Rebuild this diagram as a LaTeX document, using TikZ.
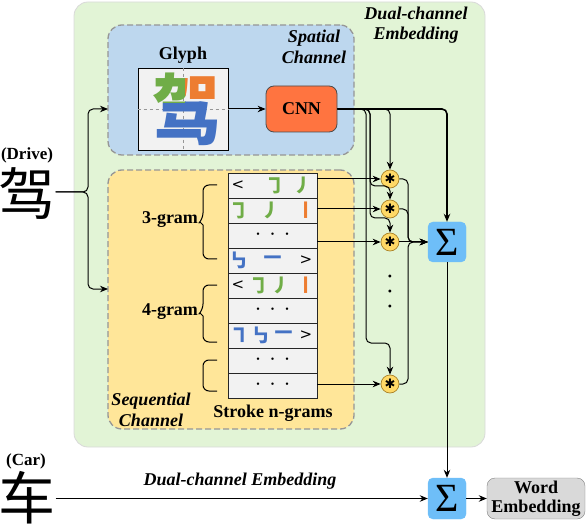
\documentclass[tikz,border=0pt]{standalone}
\usepackage{fontspec}
\setmainfont{Liberation Serif}
\newfontfamily\cjk{Noto Sans CJK SC}
\newfontfamily\dejavu{DejaVu Sans}
\usetikzlibrary{arrows.meta,calc}
\definecolor{outergreen}{RGB}{226,244,214}
\definecolor{spblue}{RGB}{189,215,238}
\definecolor{seqyellow}{RGB}{255,230,153}
\definecolor{cnnorange}{RGB}{255,116,64}
\definecolor{staryellow}{RGB}{255,217,102}
\definecolor{starborder}{RGB}{170,130,40}
\definecolor{sigblue}{RGB}{110,190,248}
\definecolor{wegray}{RGB}{217,217,217}
\definecolor{sgreen}{RGB}{112,173,71}
\definecolor{sorange}{RGB}{237,125,49}
\definecolor{sblue}{RGB}{68,114,196}
\definecolor{cellgray}{RGB}{242,242,242}
\definecolor{dashgray}{RGB}{150,150,150}
\begin{document}
\begin{tikzpicture}[x=1pt,y=-1pt,
  conn/.style={line width=1pt,rounded corners=5pt},
  arr/.style={conn,-{Stealth[length=8pt,width=6.5pt]}},
  outerbox/.style={draw=gray!30,fill=outergreen,rounded corners=14pt,line width=0.8pt,inner sep=0pt},
  chanbox/.style={draw=dashgray,dash pattern=on 6pt off 3pt,line width=1.3pt,rounded corners=14pt,inner sep=0pt},
  cell/.style={draw=black!85,fill=cellgray,minimum width=89pt,minimum height=25pt,inner sep=0pt,line width=0.8pt},
  starnode/.style={circle,draw=starborder,fill=staryellow,minimum size=18pt,inner sep=0pt,line width=0.7pt,font=\dejavu\fontsize{13}{13}\selectfont},
  sigbox/.style={fill=sigblue,draw=sigblue,rounded corners=5pt,minimum width=38pt,minimum height=40pt,inner sep=0pt},
  lbl/.style={font=\bfseries\fontsize{18}{20}\selectfont,inner sep=0pt},
  ilbl/.style={font=\bfseries\itshape\fontsize{18}{20.5}\selectfont,align=center,inner sep=0pt},
  stk/.style={font=\cjk\bfseries\fontsize{19}{19}\selectfont,inner sep=0pt},
  ang/.style={font=\dejavu\fontsize{15}{15}\selectfont,inner sep=0pt},
  dotrow/.style={font=\fontsize{10}{10}\selectfont,inner sep=0pt},
  brk/.style={line width=1pt,rounded corners=6pt},
  bigglyph/.style={inner sep=0pt,font=\cjk\bfseries\fontsize{74}{74}\selectfont,xscale=0.93,yscale=1.04,transform shape}
]
\useasboundingbox (0,0) rectangle (588,526);

% containers
\node[outerbox,minimum width=411pt,minimum height=445pt] (outer) at (279.5,224.5) {};
\node[chanbox,fill=spblue,minimum width=246pt,minimum height=130pt] (spatial) at (231,90) {};
\node[chanbox,fill=seqyellow,minimum width=246pt,minimum height=259pt] (seq) at (231,299.5) {};

\node[ilbl] (outerlbl) at (416,25) {Dual-channel\\Embedding};
\node[ilbl] (splbl) at (314,47) {Spatial\\Channel};
\node[ilbl] (seqlbl) at (151,410) {Sequential\\Channel};
\node[lbl] (glyphlbl) at (183,55) {Glyph};
\node[lbl] (ngramlbl) at (273,413) {Stroke n-grams};

% glyph box
\node[draw=black,fill=cellgray,minimum width=90pt,minimum height=82pt,inner sep=0pt,line width=0.8pt] (glyph) at (183,109) {};
\draw[dashgray,dashed,line width=0.7pt] (glyph.north) -- (glyph.south);
\draw[dashgray,dashed,line width=0.7pt] (glyph.west) -- (glyph.east);
\begin{scope}
\clip (139,69) rectangle (185,103);
\node[bigglyph,text=sgreen] (gA) at (187,109) {驾};
\end{scope}
\begin{scope}
\clip (185,69) rectangle (227,101);
\node[bigglyph,text=sorange] (gB) at (187,109) {驾};
\end{scope}
\begin{scope}
\clip (139,103) -- (185,103) -- (185,101) -- (227,101) -- (227,149) -- (139,149) -- cycle;
\node[bigglyph,text=sblue] (gC) at (187,109) {驾};
\end{scope}

% CNN
\node[draw=black!70,fill=cnnorange,rounded corners=8pt,minimum width=71pt,minimum height=46pt,inner sep=0pt,line width=0.8pt,font=\bfseries\fontsize{18}{20}\selectfont] (cnn) at (301.5,109) {CNN};

% stroke table
\foreach \i in {1,...,9} {
  \node[cell] (r\i) at (272.5,{173+25*(\i-0.5)}) {};
}
\node[ang] (c1a) at (238,0 |- r1) {<};
\node[stk,text=sgreen] (c1b) at (275,0 |- r1) {㇆};
\node[stk,text=sgreen] (c1c) at (303,0 |- r1) {㇓};
\node[stk,text=sgreen] (c2a) at (239,0 |- r2) {㇆};
\node[stk,text=sgreen] (c2b) at (271,0 |- r2) {㇓};
\node[stk,text=sorange] (c2c) at (306,0 |- r2) {㇑};
\node[dotrow] (c3) at (272.5,0 |- r3) {•\hspace{11pt}•\hspace{11pt}•};
\node[stk,text=sblue] (c4a) at (239,0 |- r4) {㇉};
\node[stk,text=sblue] (c4b) at (273,0 |- r4) {㇐};
\node[ang] (c4c) at (306,0 |- r4) {>};
\node[ang] (c5a) at (238,0 |- r5) {<};
\node[stk,text=sgreen] (c5b) at (259,0 |- r5) {㇆};
\node[stk,text=sgreen] (c5c) at (281,0 |- r5) {㇓};
\node[stk,text=sorange] (c5d) at (306,0 |- r5) {㇑};
\node[dotrow] (c6) at (272.5,0 |- r6) {•\hspace{11pt}•\hspace{11pt}•};
\node[stk,text=sblue] (c7a) at (239,0 |- r7) {㇕};
\node[stk,text=sblue] (c7b) at (261,0 |- r7) {㇉};
\node[stk,text=sblue] (c7c) at (284,0 |- r7) {㇐};
\node[ang] (c7d) at (306,0 |- r7) {>};
\node[dotrow] (c8) at (272.5,0 |- r8) {•\hspace{11pt}•\hspace{11pt}•};
\node[dotrow] (c9) at (272.5,0 |- r9) {•\hspace{11pt}•\hspace{11pt}•};

% braces
\draw[brk] (217,185) -- (203,185) -- (203,219) [sharp corners] -- (200,222) -- (203,225) [rounded corners=6pt] -- (203,259) -- (217,259);
\draw[brk] (217,285) -- (203,285) -- (203,310) [sharp corners] -- (200,313) -- (203,316) [rounded corners=6pt] -- (203,342) -- (217,342);
\draw[brk] (217,360) -- (203,360) -- (203,391) -- (217,391);
\node[lbl] (g3) at (170,220) {3-gram};
\node[lbl] (g4) at (170,312) {4-gram};

% star nodes
\node[starnode] (st1) at (390,179) {✱};
\node[starnode] (st2) at (390,209) {✱};
\node[starnode] (st3) at (390,242) {✱};
\node[starnode] (st4) at (390,384) {✱};
\node[dotrow,font=\fontsize{12}{12}\selectfont] (vd1) at (390,278) {•};
\node[dotrow,font=\fontsize{12}{12}\selectfont] (vd2) at (390,293) {•};
\node[dotrow,font=\fontsize{12}{12}\selectfont] (vd3) at (390,308) {•};

% sigma nodes
\node[sigbox,font=\fontsize{40}{40}\selectfont] (sig1) at (447,242) {Σ};
\node[sigbox,font=\fontsize{40}{40}\selectfont,minimum height=41pt] (sig2) at (447,498.5) {Σ};
\node[fill=wegray,draw=gray,rounded corners=8pt,minimum width=98pt,minimum height=41pt,inner sep=0pt,align=center,font=\bfseries\fontsize{18}{19}\selectfont] (we) at (536,498.5) {Word\\Embedding};

% input characters
\node[lbl,font=\bfseries\fontsize{17}{18}\selectfont] (drivelbl) at (27,155) {(Drive)};
\node[inner sep=0pt,font=\cjk\fontsize{57}{57}\selectfont] (drive) at (27,194) {驾};
\node[lbl,font=\bfseries\fontsize{17}{18}\selectfont] (carlbl) at (26,461) {(Car)};
\node[inner sep=0pt,font=\cjk\fontsize{57}{57}\selectfont] (car) at (27,498) {车};
\node[ilbl] (dcelbl) at (240,481) {Dual-channel Embedding};

% connectors
\coordinate (spin) at (108,109);
\coordinate (seqin) at (108,289);
\coordinate (split) at (88,192);
\draw[arr] (drive.east |- split) -- (split) |- (spin);
\draw[arr] (drive.east |- split) -- (split) |- (seqin);
\draw[arr] (glyph) -- (cnn);

\draw[arr,line width=1.6pt] (cnn.east) -| (sig1.north);
\draw[arr] (cnn.east) -| (st1.north);
\draw[arr] (cnn.east) -- (370,109) -- (370,186) -- (390,186) -- (st2.north);
\draw[arr] (cnn.east) -- (370,109) -- (370,218) -- (390,218) -- (st3.north);
\draw[arr] (cnn.east) -- (366,109) -- (366,343) -- (390,343) -- (st4.north);

\draw[arr] (r1.east |- st1) -- (st1);
\draw[arr] (r2.east |- st2) -- (st2);
\draw[arr] (r3.east |- st3) -- (st3);
\draw[arr] (r9.east |- st4) -- (st4);

\draw[arr] (st1.east) -- (408,179) |- (sig1.west);
\draw[arr] (st2.east) -- (408,209) |- (sig1.west);
\draw[arr] (st3) -- (sig1);
\draw[arr] (st4.east) -- (408,384) |- (sig1.west);

\draw[arr] (sig1) -- (sig2);
\draw[arr] (car.east |- sig2) -- (sig2);
\draw[arr] (sig2) -- (we);
\end{tikzpicture}
\end{document}
